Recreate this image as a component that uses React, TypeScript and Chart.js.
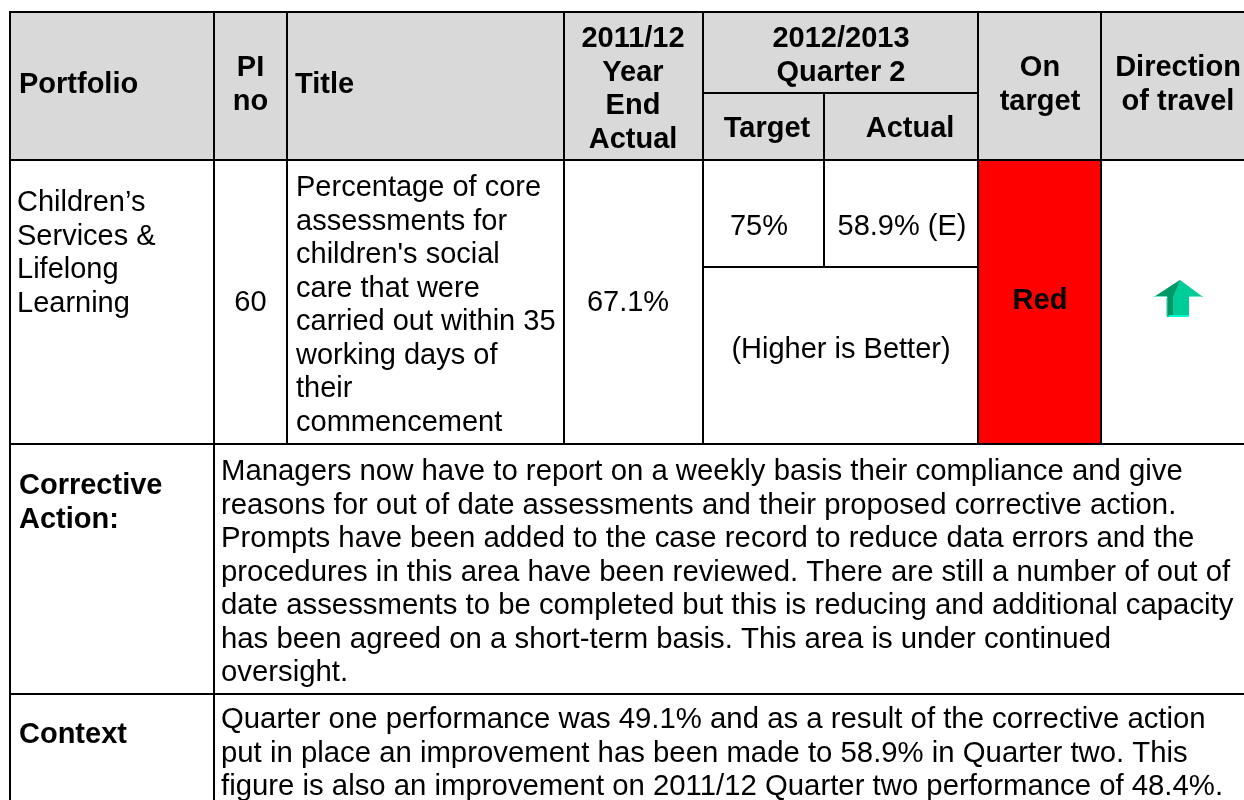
import React, { useEffect, useRef } from "react";
import { Chart, registerables } from "chart.js";

Chart.register(...registerables);

// Table content
const portfolioHeader = ["Portfolio"];
const piHeader = ["PI", "no"];
const titleHeader = ["Title"];
const priorHeader = ["2011/12", "Year", "End", "Actual"];
const periodHeader = ["2012/2013", "Quarter 2"];
const targetHeader = ["Target"];
const actualHeader = ["Actual"];
const onTargetHeader = ["On", "target"];
const directionHeader = ["Direction", "of travel"];
const portfolioText = ["Children’s", "Services &", "Lifelong", "Learning"];
const piNumber = ["60"];
const titleText = [
  "Percentage of core",
  "assessments for",
  "children's social",
  "care that were",
  "carried out within 35",
  "working days of",
  "their",
  "commencement",
];
const priorActual = ["67.1%"];
const targetValue = ["75%"];
const actualValue = ["58.9% (E)"];
const polarity = ["(Higher is Better)"];
const status = ["Red"];
const correctiveHeading = ["Corrective", "Action:"];
const correctiveText = [
  "Managers now have to report on a weekly basis their compliance and give",
  "reasons for out of date assessments and their proposed corrective action.",
  "Prompts have been added to the case record to reduce data errors and the",
  "procedures in this area have been reviewed. There are still a number of out of",
  "date assessments to be completed but this is reducing and additional capacity",
  "has been agreed on a short-term basis. This area is under continued",
  "oversight.",
];
const contextHeading = ["Context"];
const contextText = [
  "Quarter one performance was 49.1% and as a result of the corrective action",
  "put in place an improvement has been made to 58.9% in Quarter two. This",
  "figure is also an improvement on 2011/12 Quarter two performance of 48.4%.",
];

// Layout of the table, in scale units
const FONT = '"Liberation Sans", Arial, sans-serif';
const SIZE = 29;
const BODY_SIZE = 29.33;
const LINE = 33.5;
type Block = { t: string[]; x: number; y: number; a?: CanvasTextAlign; b?: boolean; s?: number };
const blocks: Block[] = [
  { t: portfolioHeader, x: 19, y: 85, b: true },
  { t: piHeader, x: 250.5, y: 68, a: "center", b: true },
  { t: titleHeader, x: 295, y: 85, b: true },
  { t: priorHeader, x: 633, y: 39, a: "center", b: true },
  { t: periodHeader, x: 841, y: 39, a: "center", b: true },
  { t: targetHeader, x: 767, y: 129, a: "center", b: true },
  { t: actualHeader, x: 910, y: 129, a: "center", b: true },
  { t: onTargetHeader, x: 1040, y: 68, a: "center", b: true },
  { t: directionHeader, x: 1178, y: 68, a: "center", b: true },
  { t: portfolioText, x: 17, y: 203 },
  { t: piNumber, x: 250.5, y: 303, a: "center" },
  { t: titleText, x: 296, y: 188 },
  { t: priorActual, x: 628, y: 303, a: "center" },
  { t: targetValue, x: 759, y: 227, a: "center" },
  { t: actualValue, x: 902, y: 227, a: "center" },
  { t: polarity, x: 841, y: 350, a: "center" },
  { t: status, x: 1040, y: 301, a: "center", b: true },
  { t: correctiveHeading, x: 19, y: 486, b: true },
  { t: correctiveText, x: 221, y: 472, s: BODY_SIZE },
  { t: contextHeading, x: 19, y: 735, b: true },
  { t: contextText, x: 221, y: 720, s: BODY_SIZE },
];
// [x0, y0, x1, y1]
const hLines = [
  [9, 12, 1244, 12],
  [9, 160, 1244, 160],
  [703, 93, 979, 93],
  [703, 267, 979, 267],
  [9, 444, 1244, 444],
  [9, 694, 1244, 694],
];
const vLines = [
  [10, 12, 10, 800],
  [214, 12, 214, 800],
  [287, 12, 287, 444],
  [564, 12, 564, 444],
  [703, 12, 703, 444],
  [824, 93, 824, 267],
  [978, 12, 978, 444],
  [1101, 12, 1101, 444],
];

const tablePlugin = {
  id: "tablePlugin",
  afterDraw(chart: any) {
    const { ctx } = chart;
    const X = (v: number) => chart.scales.x.getPixelForValue(v);
    const Y = (v: number) => chart.scales.y.getPixelForValue(v);
    const rect = (x0: number, y0: number, x1: number, y1: number, c: string) => {
      ctx.fillStyle = c;
      ctx.fillRect(X(x0), Y(y0), X(x1) - X(x0), Y(y1) - Y(y0));
    };
    const poly = (pts: number[][], c: string) => {
      ctx.fillStyle = c;
      ctx.beginPath();
      pts.forEach(([x, y], i) => (i ? ctx.lineTo(X(x), Y(y)) : ctx.moveTo(X(x), Y(y))));
      ctx.closePath();
      ctx.fill();
    };
    ctx.save();
    rect(0, 0, 1244, 800, "#ffffff");
    rect(10, 12, 1244, 160, "#d9d9d9");
    rect(978, 160, 1101, 444, "#ff0000");

    // direction arrow
    rect(1166, 298, 1168, 316, "#c4c4c4");
    poly([[1154, 297], [1180, 280], [1203, 297], [1189, 297], [1189, 317], [1167, 317], [1167, 297]], "#00cc99");
    poly([[1154, 297], [1180, 280], [1173, 297]], "#009966");
    rect(1168, 297, 1173, 315, "#009966");
    rect(1169, 315, 1189, 317, "#00ffcc");
    rect(1154, 296, 1167, 297, "#66e6cc");
    rect(1189, 296, 1203, 297, "#66e6cc");

    hLines.forEach(([x0, y0, x1]) => rect(x0, y0 - 1, x1, y0 + 1, "#000000"));
    vLines.forEach(([x0, y0, , y1]) => rect(x0 - 1, y0 - 1, x0 + 1, y1, "#000000"));

    ctx.textBaseline = "middle";
    ctx.fillStyle = "#000000";
    blocks.forEach((k) => {
      ctx.font = `${k.b ? "bold " : ""}${k.s ?? SIZE}px ${FONT}`;
      ctx.textAlign = k.a ?? "left";
      k.t.forEach((s, i) => ctx.fillText(s, X(k.x), Y(k.y + i * LINE)));
    });
    ctx.restore();
  },
};

export default function App() {
  const ref = useRef<HTMLCanvasElement>(null);
  useEffect(() => {
    document.body.style.margin = "0";
    const chart = new Chart(ref.current!, {
      type: "scatter",
      data: { datasets: [] },
      options: {
        animation: false,
        responsive: false,
        layout: { padding: 0 },
        plugins: { legend: { display: false }, title: { display: false }, tooltip: { enabled: false } },
        scales: {
          x: { type: "linear", display: false, min: 0, max: 1244 },
          y: { type: "linear", display: false, min: 0, max: 800, reverse: true },
        },
      },
      plugins: [tablePlugin],
    });
    return () => chart.destroy();
  }, []);
  return <canvas ref={ref} width={1244} height={800} style={{ display: "block" }} />;
}
